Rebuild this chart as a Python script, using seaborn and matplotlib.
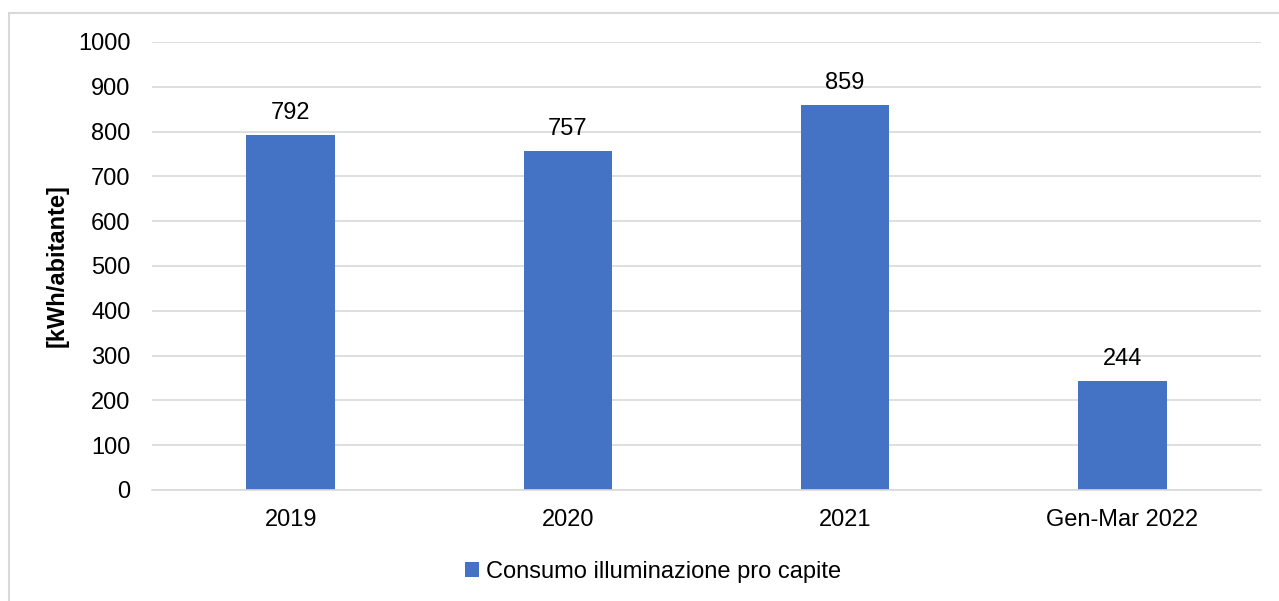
import matplotlib
matplotlib.use("Agg")
import matplotlib.pyplot as plt
import seaborn as sns
import pandas as pd
from matplotlib.patches import Rectangle

categories = ["2019", "2020", "2021", "Gen-Mar 2022"]
values = [792, 757, 859, 244]
series_name = "Consumo illuminazione pro capite"
y_label = "[kWh/abitante]"
y_ticks = [0, 100, 200, 300, 400, 500, 600, 700, 800, 900, 1000]

sns.set_theme(style="white")
plt.rcParams['font.family'] = ['Liberation Sans', 'DejaVu Sans']
plt.rcParams['text.color'] = '#000000'

FS = 17

df = pd.DataFrame({"cat": categories, "val": values, "series": series_name})

fig = plt.figure(figsize=(12.79, 6.01), dpi=100)
ax = fig.add_axes([152/1279, 1 - 490/601, (1261-152)/1279, (490-42)/601])

sns.barplot(data=df, x="cat", y="val", hue="series", palette=["#4472C4"],
            width=0.32, ax=ax, saturation=1, legend=True, linewidth=0)

ax.set_ylim(0, 1000)
ax.set_xlim(-0.5, len(categories) - 0.5)
ax.set_yticks(y_ticks)
ax.yaxis.grid(True, color="#D9D9D9", linewidth=1.2)
ax.set_axisbelow(True)
for s in ["top", "right", "left"]:
    ax.spines[s].set_visible(False)
ax.spines["bottom"].set_color("#D9D9D9")
ax.spines["bottom"].set_linewidth(1.2)
ax.tick_params(axis="both", length=0, labelsize=FS, colors="#000000")
ax.tick_params(axis="y", pad=15.5)
ax.tick_params(axis="x", pad=14)
ax.set_xlabel("")
ax.set_ylabel(y_label, fontsize=FS, fontweight="bold", labelpad=7, color="#000000")

for c in ax.containers:
    ax.bar_label(c, fmt="%d", fontsize=FS, padding=8, color="#000000")

ax.legend(loc="center", bbox_to_anchor=(653/1279, 1 - 572/601),
          bbox_transform=fig.transFigure, frameon=False,
          fontsize=FS, handlelength=0.6, handleheight=0.6, handletextpad=0.3)

fig.patches.append(Rectangle((9/1279, -0.1), 1.2, 1 - 13/601 + 0.1, transform=fig.transFigure,
                             fill=False, edgecolor="#D9D9D9", linewidth=1.5))

fig.savefig("out.png", dpi=100)
